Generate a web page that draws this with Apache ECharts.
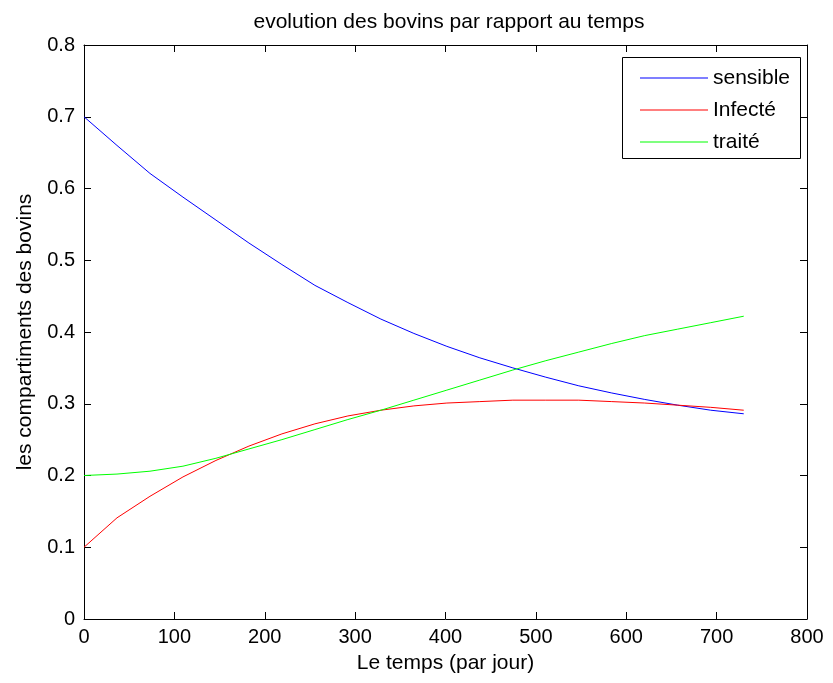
<!DOCTYPE html>
<html><head><meta charset="utf-8">
<script src="https://cdn.jsdelivr.net/npm/echarts@6/dist/echarts.min.js"></script>
<style>html,body{margin:0;padding:0;background:#fff}#c{width:833px;height:683px}</style>
</head><body><div id="c"></div>
<script>
const days = [0, 36.5, 73, 109.5, 146, 182.5, 219, 255.5, 292, 328.5, 365, 401.5, 438, 474.5, 511, 547.5, 584, 620.5, 657, 693.5, 730];
const sensible = [0.700, 0.660, 0.621, 0.588, 0.556, 0.524, 0.494, 0.465, 0.441, 0.418, 0.398, 0.380, 0.364, 0.350, 0.337, 0.325, 0.315, 0.306, 0.298, 0.291, 0.286];
const infecte = [0.100, 0.141, 0.171, 0.198, 0.221, 0.241, 0.258, 0.272, 0.283, 0.291, 0.297, 0.301, 0.303, 0.305, 0.305, 0.305, 0.303, 0.301, 0.298, 0.295, 0.291];
const traite = [0.200, 0.202, 0.206, 0.213, 0.224, 0.237, 0.250, 0.264, 0.278, 0.291, 0.305, 0.319, 0.333, 0.347, 0.360, 0.372, 0.384, 0.395, 0.404, 0.413, 0.422];
const seriesNames = ['sensible', 'Infecté', 'traité'];
const xTicks = [0, 100, 200, 300, 400, 500, 600, 700, 800];
const yTicks = [0, 0.1, 0.2, 0.3, 0.4, 0.5, 0.6, 0.7, 0.8];

const font = 'Liberation Sans, Arial, Helvetica, sans-serif';
const zip = (xs, ys) => xs.map((x, i) => [x, ys[i]]);
const chart = echarts.init(document.getElementById('c'), null, {renderer: 'canvas'});
const axisCommon = {
  axisLine: {show: true, onZero: false, lineStyle: {color: '#000', width: 1}},
  axisTick: {show: true, inside: true, length: 7, lineStyle: {color: '#000'}},
  splitLine: {show: false}
};
chart.setOption({
  animation: false,
  backgroundColor: '#fff',
  title: {text: 'evolution des bovins par rapport au temps', left: 444, textAlign: 'center', top: 7,
    textStyle: {fontFamily: font, fontSize: 21, fontWeight: 'normal', color: '#000'}},
  grid: {left: 84, right: 26, top: 45, bottom: 64},
  legend: {
    orient: 'vertical', left: 635, top: 62, itemWidth: 68, itemHeight: 14, itemGap: 10, itemTextGap: 6,
    icon: 'path://M0,7 L68,7 L68,8 L0,8 Z',
    data: seriesNames,
    textStyle: {fontFamily: font, fontSize: 21, color: '#000', lineHeight: 22}
  },
  graphic: [{type: 'rect', shape: {x: 622.5, y: 57.5, width: 178, height: 101},
    style: {fill: 'none', stroke: '#000', lineWidth: 1}, z: 100}],
  xAxis: [
    Object.assign({type: 'value', min: 0, max: 800, interval: 100, position: 'bottom',
      name: 'Le temps (par jour)', nameLocation: 'middle', nameGap: 34,
      nameTextStyle: {fontFamily: font, fontSize: 21, color: '#000'},
      axisLabel: {fontFamily: font, fontSize: 20, color: '#000', margin: 8,
        formatter: v => xTicks.includes(v) ? String(v) : ''}}, axisCommon),
    Object.assign({type: 'value', min: 0, max: 800, interval: 100, position: 'top',
      axisLabel: {show: false}}, axisCommon)
  ],
  yAxis: [
    Object.assign({type: 'value', min: 0, max: 0.8, interval: 0.1, position: 'left',
      name: 'les compartiments des bovins', nameLocation: 'middle', nameGap: 48,
      nameTextStyle: {fontFamily: font, fontSize: 21, color: '#000'},
      axisLabel: {fontFamily: font, fontSize: 20, color: '#000', margin: 9,
        formatter: v => { const t = yTicks.find(y => Math.abs(y - v) < 1e-9); return t === undefined ? '' : (t === 0 ? '0' : t.toFixed(1)); }}}, axisCommon),
    Object.assign({type: 'value', min: 0, max: 0.8, interval: 0.1, position: 'right',
      axisLabel: {show: false}}, axisCommon)
  ],
  series: [
    {name: seriesNames[0], type: 'line', data: zip(days, sensible), symbol: 'none', color: '#0000ff', lineStyle: {width: 1, color: '#0000ff'}},
    {name: seriesNames[1], type: 'line', data: zip(days, infecte), symbol: 'none', color: '#ff0000', lineStyle: {width: 1, color: '#ff0000'}},
    {name: seriesNames[2], type: 'line', data: zip(days, traite), symbol: 'none', color: '#00ff00', lineStyle: {width: 1, color: '#00ff00'}}
  ]
});
</script></body></html>
